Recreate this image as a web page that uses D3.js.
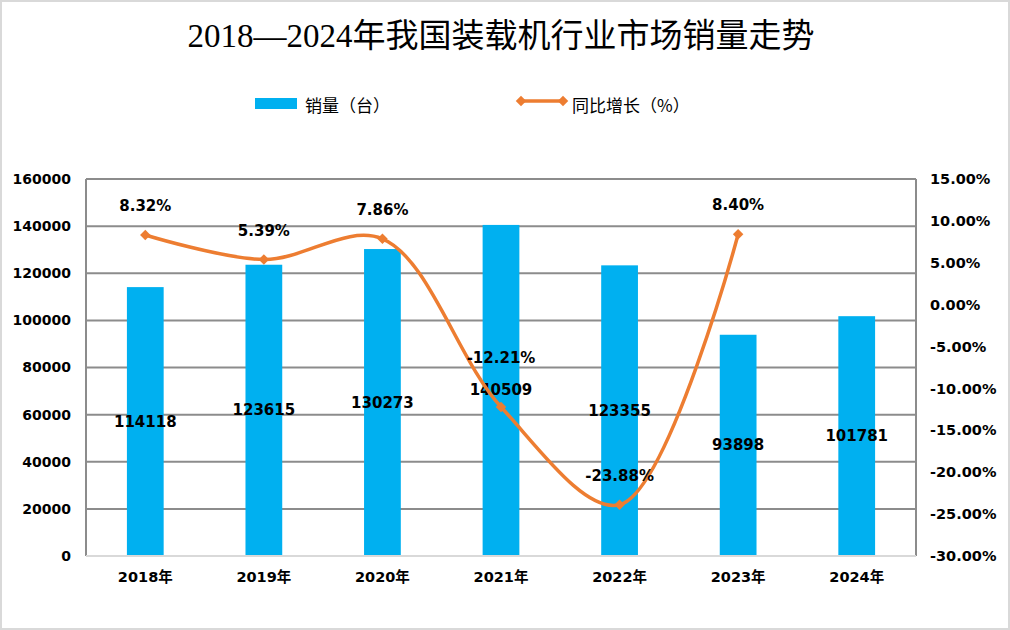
<!DOCTYPE html>
<html><head><meta charset="utf-8">
<script src="https://cdn.jsdelivr.net/npm/d3@7"></script>
<style>
html,body{margin:0;padding:0;background:#fff;}
svg{display:block;}
</style></head>
<body>
<svg id="chart" width="1010" height="630"></svg>
<script>
const title = "2018—2024年我国装载机行业市场销量走势";
const categories = ["2018年","2019年","2020年","2021年","2022年","2023年","2024年"];
const sales = [114118,123615,130273,140509,123355,93898,101781];
const growth = [8.32,5.39,7.86,-12.21,-23.88,8.40,null];
const leftTicks = [0,20000,40000,60000,80000,100000,120000,140000,160000];
const rightTicks = [-30,-25,-20,-15,-10,-5,0,5,10,15];
const seriesNames = ["销量（台）","同比增长（%）"];

const W = 1010, H = 630;
const m = {left:86, right:916, top:179, bottom:556};
const svg = d3.select("#chart");

svg.append("rect").attr("x",1).attr("y",1).attr("width",W-2).attr("height",H-2)
  .attr("fill","#fff").attr("stroke","#d9d9d9").attr("stroke-width",2);

const x = d3.scaleBand().domain(categories).range([m.left,m.right]).paddingInner(0).paddingOuter(0);
const yL = d3.scaleLinear().domain([0,160000]).range([m.bottom,m.top]);
const yR = d3.scaleLinear().domain([-30,15]).range([m.bottom,m.top]);

// gridlines
const grid = svg.append("g");
grid.selectAll("line").data(leftTicks.filter(d=>d>0)).join("line")
  .attr("x1",m.left).attr("x2",m.right)
  .attr("y1",d=>yL(d)).attr("y2",d=>yL(d))
  .attr("stroke","#8c8c8c").attr("stroke-width",2);
// vertical frame lines
svg.append("line").attr("x1",m.left).attr("x2",m.left).attr("y1",m.top).attr("y2",m.bottom)
  .attr("stroke","#8c8c8c").attr("stroke-width",2);
svg.append("line").attr("x1",m.right).attr("x2",m.right).attr("y1",m.top).attr("y2",m.bottom)
  .attr("stroke","#8c8c8c").attr("stroke-width",2);

// bars
const bw = x.bandwidth()*0.31;
svg.append("g").selectAll("rect").data(sales).join("rect")
  .attr("x",(d,i)=>x(categories[i])+x.bandwidth()/2-bw/2)
  .attr("width",bw)
  .attr("y",d=>yL(d)).attr("height",d=>yL(0)-yL(d))
  .attr("fill","#00b0f0");

// bottom axis line
svg.append("line").attr("x1",m.left).attr("x2",m.right).attr("y1",m.bottom).attr("y2",m.bottom)
  .attr("stroke","#d9d9d9").attr("stroke-width",2);

const numFont = "'DejaVu Sans', Verdana, sans-serif";

// left axis
const axL = svg.append("g").attr("transform",`translate(${m.left},0)`)
  .call(d3.axisLeft(yL).tickValues(leftTicks).tickSize(0).tickPadding(15).tickFormat(d=>String(d)));
axL.select(".domain").remove();
axL.selectAll("text").attr("font-family",numFont).attr("font-weight","bold").attr("font-size","14px").attr("fill","#000");

// right axis
const axR = svg.append("g").attr("transform",`translate(${m.right},0)`)
  .call(d3.axisRight(yR).tickValues(rightTicks).tickSize(0).tickPadding(14).tickFormat(d=>d.toFixed(2)+"%"));
axR.select(".domain").remove();
axR.selectAll("text").attr("font-family",numFont).attr("font-weight","bold").attr("font-size","14.5px").attr("fill","#000");

// bottom axis labels
const axB = svg.append("g").attr("transform",`translate(0,${m.bottom})`)
  .call(d3.axisBottom(x).tickSize(0).tickPadding(16));
axB.select(".domain").remove();
axB.selectAll("text").attr("font-family",numFont+", 'Noto Sans CJK SC'").attr("font-weight","bold").attr("font-size","14.5px").attr("fill","#000");

// bar value labels
svg.append("g").selectAll("text").data(sales).join("text")
  .attr("x",(d,i)=>x(categories[i])+x.bandwidth()/2)
  .attr("y",d=>(yL(d)+yL(0))/2)
  .attr("text-anchor","middle").attr("dominant-baseline","central")
  .attr("font-family",numFont).attr("font-weight","bold").attr("font-size","15px").attr("fill","#000")
  .text(d=>d);

// line
const pts = growth.map((g,i)=>({c:categories[i],g})).filter(d=>d.g!==null);
const line = d3.line().x(d=>x(d.c)+x.bandwidth()/2).y(d=>yR(d.g)).curve(d3.curveCatmullRom.alpha(0.5));
svg.append("path").datum(pts).attr("d",line).attr("fill","none")
  .attr("stroke","#ed7d31").attr("stroke-width",3.5).attr("stroke-linejoin","round");
const diamond = d3.symbol().type(d3.symbolDiamond2).size(70);
svg.append("g").selectAll("path").data(pts).join("path")
  .attr("d",diamond)
  .attr("transform",d=>`translate(${x(d.c)+x.bandwidth()/2},${yR(d.g)})`)
  .attr("fill","#ed7d31");

// growth labels
svg.append("g").selectAll("text").data(pts).join("text")
  .attr("x",d=>x(d.c)+x.bandwidth()/2)
  .attr("y",(d,i)=>yR(d.g)-(d.g===-12.21?49:29))
  .attr("text-anchor","middle").attr("dominant-baseline","central")
  .attr("font-family",numFont).attr("font-weight","bold").attr("font-size","15px").attr("fill","#000")
  .text(d=>d.g.toFixed(2)+"%");

// title
svg.append("text").attr("x",501).attr("y",47).attr("text-anchor","middle")
  .attr("font-family","'Liberation Serif','Noto Sans CJK SC',serif").attr("font-size","33px").attr("fill","#000")
  .text(title);

// legend
const cjk = "'Noto Sans CJK SC', sans-serif";
svg.append("rect").attr("x",255).attr("y",98).attr("width",42).attr("height",11).attr("fill","#00b0f0");
svg.append("text").attr("x",305).attr("y",104).attr("dominant-baseline","central")
  .attr("font-family",cjk).attr("font-size","17px").attr("fill","#000").text(seriesNames[0]);
svg.append("line").attr("x1",520).attr("x2",564).attr("y1",101).attr("y2",101)
  .attr("stroke","#ed7d31").attr("stroke-width",3.5);
[521,563].forEach(cx=>{
  svg.append("path").attr("d",d3.symbol().type(d3.symbolDiamond2).size(70)())
    .attr("transform",`translate(${cx},101)`).attr("fill","#ed7d31");
});
svg.append("text").attr("x",572).attr("y",104).attr("dominant-baseline","central")
  .attr("font-family",cjk).attr("font-size","17px").attr("fill","#000").text(seriesNames[1]);
</script>
</body></html>
